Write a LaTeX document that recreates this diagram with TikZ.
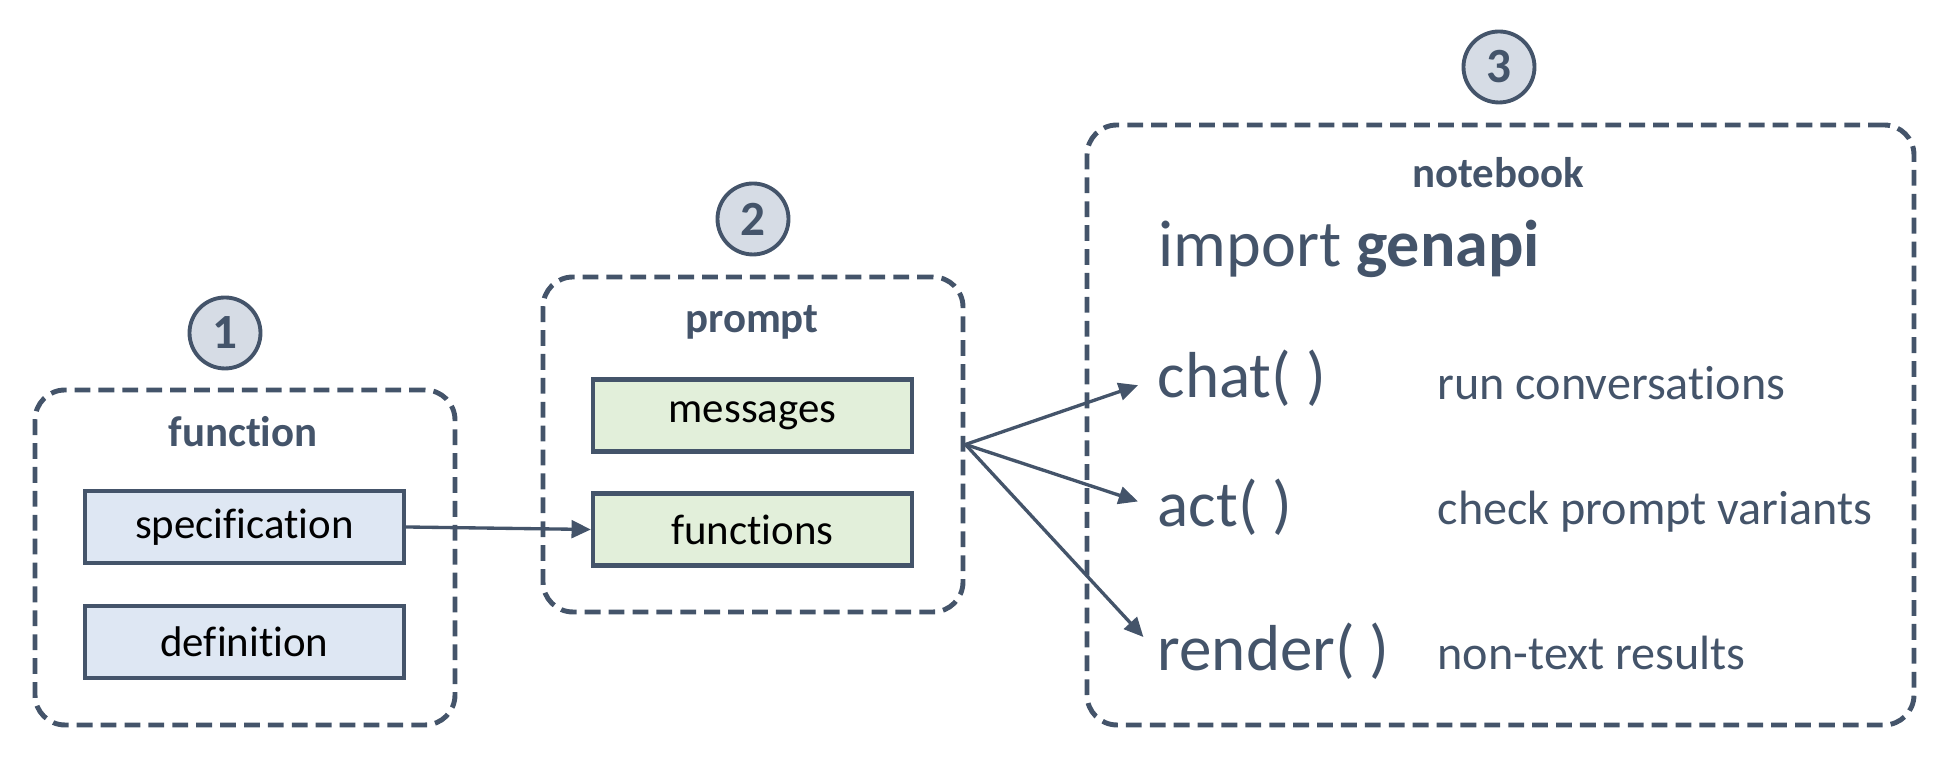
\documentclass[tikz,border=0pt]{standalone}
\usepackage{fontspec}
\setmainfont{Carlito}[Ligatures=NoCommon]
\usepackage[usenames]{xcolor}
\usepackage{tikz}
\usetikzlibrary{
  arrows.meta,
  calc
}
\definecolor{slate}{HTML}{44546A}
\definecolor{stepfill}{HTML}{D6DCE5}
\definecolor{specfill}{HTML}{DEE7F3}
\definecolor{promptfill}{HTML}{E2EFDA}

\tikzset{
  numcirc/.style={circle, draw=slate, fill=stepfill, line width=1.1pt,
    minimum size=0.71cm, inner sep=0pt, text=slate,
    font=\fontsize{14}{16}\selectfont\bfseries},
  group/.style={draw=slate, line width=1.4pt, dash pattern=on 4.5pt off 2.3pt,
    rounded corners=0.3cm},
  grouplabel/.style={text=slate, font=\fontsize{12.2}{14}\selectfont\bfseries},
  item/.style={draw=slate, line width=1.2pt, minimum width=3.19cm,
    minimum height=0.72cm, inner sep=0pt, font=\fontsize{12.2}{14}\selectfont},
  call/.style={anchor=base west, inner sep=0pt, text=slate,
    font=\fontsize{18.5}{20}\selectfont},
  note/.style={anchor=base west, inner sep=0pt, text=slate,
    font=\fontsize{13.7}{16}\selectfont},
  link/.style={draw=slate, line width=0.95pt,
    -{Triangle[length=5.5pt,width=5pt]}}
}

\begin{document}
\begin{tikzpicture}
\useasboundingbox (0,0) rectangle (19.5,7.6);

% step markers
\node [numcirc] (n1) at (2.25,4.27) {1};
\node [numcirc] (n2) at (7.53,5.41) {2};
\node [numcirc] (n3) at (14.99,6.93) {3};

% function
\node [group, minimum width=4.2cm, minimum height=3.35cm] (fn) at (2.45,2.025) {};
\node [grouplabel] (fnlabel) at (2.43,3.28) {function};
\node [item, fill=specfill] (spec) at (2.445,2.33) {specification};
\node [item, fill=specfill] (defn) at (2.445,1.18) {definition};

% prompt
\node [group, minimum width=4.2cm, minimum height=3.35cm] (pr) at (7.53,3.155) {};
\node [grouplabel] (prlabel) at (7.52,4.38) {prompt};
\node [item, fill=promptfill] (msgs) at (7.525,3.445) {messages};
\node [item, fill=promptfill] (fns) at (7.525,2.305) {functions};

% notebook
\node [group, minimum width=8.27cm, minimum height=6cm] (nb) at (15.005,3.35) {};
\node [grouplabel] (nblabel) at (14.98,5.87) {notebook};
\node [call, font=\fontsize{18.8}{20}\selectfont] (imp) at (11.58,4.93) {import \textbf{genapi}};
\node [call] (chat) at (11.57,3.62) {chat( )};
\node [call] (act) at (11.57,2.33) {act( )};
\node [call] (render) at (11.57,0.89) {render( )};
\node [note] (chatnote) at (14.37,3.60) {run conversations};
\node [note] (actnote) at (14.37,2.35) {check prompt variants};
\node [note] (rendernote) at (14.37,0.90) {non-text results};

\draw [link] (spec.east) -- (fns.west);
\draw [link, shorten >=0.2cm] (pr.east) -- (chat.west);
\draw [link, shorten >=0.2cm] (pr.east) -- (act.west);
\draw [link, shorten >=0.2cm] (pr.east) -- (render.west);
\end{tikzpicture}
\end{document}
